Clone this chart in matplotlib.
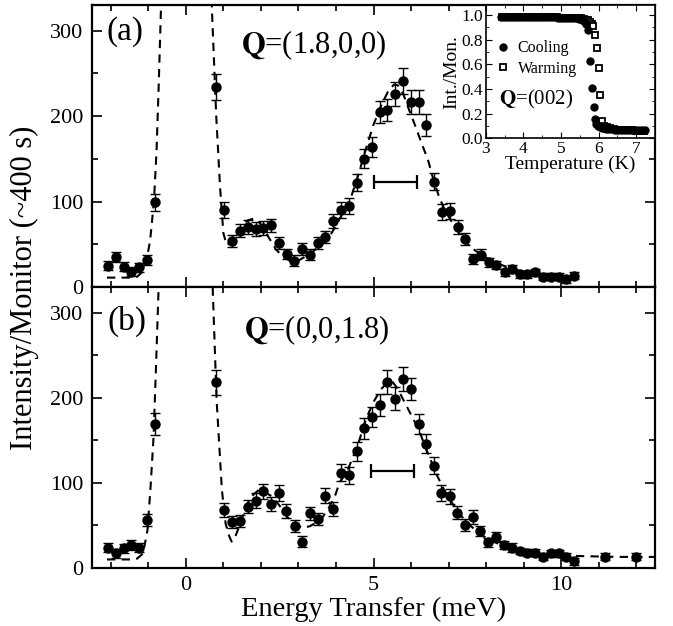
import matplotlib
matplotlib.use("Agg")
import matplotlib.pyplot as plt
from matplotlib.ticker import MultipleLocator

plt.rcParams['font.family'] = 'serif'
plt.rcParams['font.serif'] = ['Liberation Serif', 'DejaVu Serif']
plt.rcParams['mathtext.fontset'] = 'stix'

# panel (a): Q=(1.8,0,0)
ea = [-2.07, -1.86, -1.66, -1.45, -1.24, -1.03, -0.82,
      0.81, 1.02, 1.23, 1.44, 1.65, 1.86, 2.06, 2.27, 2.48, 2.69, 2.89, 3.10,
      3.31, 3.51, 3.71, 3.93, 4.13, 4.34, 4.55, 4.75, 4.96, 5.17, 5.37, 5.58,
      5.79, 5.99, 6.20, 6.41, 6.62, 6.82, 7.03, 7.24, 7.45, 7.66, 7.86, 8.07,
      8.27, 8.49, 8.70, 8.90, 9.10, 9.31, 9.51, 9.72, 9.93, 10.13, 10.35]
ia = [25, 35, 24, 18, 23, 32, 99,
      234, 90, 54, 66, 70, 68, 69, 72, 52, 39, 31, 45,
      38, 52, 59, 77, 90, 95, 122, 150, 164, 205, 207, 226,
      241, 217, 217, 190, 123, 88, 89, 70, 56, 33, 38, 29,
      26, 17, 21, 15, 15, 17, 12, 12, 12, 9, 13]
da = [5, 6, 5, 5, 5, 6, 10,
      15, 9, 7, 8, 8, 8, 8, 8, 7, 6, 6, 7,
      6, 7, 7, 8, 9, 9, 10, 11, 12, 13, 13, 14,
      15, 14, 14, 13, 10, 9, 9, 8, 7, 6, 6, 5,
      5, 4, 5, 4, 4, 4, 4, 4, 4, 4, 4]
fit_ea = [-2.1, -1.8, -1.5, -1.3, -1.15, -1.05, -0.95, -0.85, -0.78, -0.72, -0.66, -0.55,
          0.55, 0.69, 0.81, 0.91, 1.0, 1.09, 1.2, 1.35, 1.5, 1.65, 1.8, 1.95, 2.1,
          2.25, 2.4, 2.6, 2.8, 3.0, 3.2, 3.4, 3.6, 3.8, 4.0, 4.2, 4.4, 4.6, 4.8,
          5.0, 5.2, 5.4, 5.55, 5.65, 5.8, 5.95, 6.1, 6.3, 6.45, 6.6, 6.75, 6.9,
          7.1, 7.3, 7.5, 7.7, 7.9, 8.1, 8.4, 8.7, 9.0, 9.4, 9.8, 10.3]
fit_ia = [11, 11, 11, 12, 18, 30, 55, 100, 160, 240, 330, 500,
          500, 330, 200, 118, 63, 49, 52, 62, 72, 78, 80, 76, 66,
          55, 44, 35, 30, 31, 36, 42, 49, 57, 72, 88, 105, 132, 162,
          190, 212, 230, 237, 236, 225, 207, 190, 166, 149, 125, 105, 90,
          75, 62, 51, 43, 37, 32, 26, 21, 18, 15, 13, 12]
res_a = (5.585, 123, 0.585)

# panel (b): Q=(0,0,1.8)
eb = [-2.07, -1.86, -1.66, -1.45, -1.24, -1.04, -0.82,
      0.81, 1.02, 1.23, 1.44, 1.65, 1.86, 2.06, 2.27, 2.48, 2.68, 2.90, 3.10,
      3.31, 3.51, 3.71, 3.93, 4.13, 4.34, 4.55, 4.75, 4.96, 5.17, 5.37, 5.58,
      5.79, 5.99, 6.20, 6.41, 6.61, 6.81, 7.03, 7.23, 7.44, 7.65, 7.85, 8.06,
      8.27, 8.47, 8.69, 8.89, 9.10, 9.31, 9.51, 9.72, 9.93, 10.13, 10.34,
      11.17, 12.00]
ib = [24, 17, 23, 27, 24, 56, 169,
      218, 68, 54, 55, 72, 79, 90, 75, 88, 67, 49, 31,
      64, 58, 85, 69, 112, 109, 137, 164, 177, 191, 218, 199,
      222, 210, 169, 146, 120, 88, 84, 65, 51, 60, 43, 30,
      36, 27, 24, 20, 18, 18, 13, 17, 17, 13, 8,
      13, 13]
db = [5, 5, 5, 6, 5, 7, 13,
      15, 8, 7, 7, 8, 9, 9, 8, 9, 8, 7, 6,
      8, 7, 9, 8, 10, 10, 11, 12, 12, 13, 14, 13,
      14, 13, 12, 11, 10, 9, 9, 8, 7, 8, 6, 5,
      6, 5, 5, 4, 4, 4, 4, 4, 4, 4, 4,
      4, 4]
fit_eb = [-2.1, -1.5, -1.3, -1.14, -1.02, -0.94, -0.86, -0.8, -0.73, -0.62,
          0.62, 0.72, 0.82, 0.96, 1.06, 1.15, 1.22, 1.31, 1.45, 1.6, 1.75,
          1.95, 2.1, 2.3, 2.5, 2.7, 2.9, 3.1, 3.3, 3.5, 3.65, 3.8, 3.97,
          4.1, 4.2, 4.3, 4.46, 4.6, 4.8, 5.0, 5.2, 5.4, 5.5, 5.65, 5.8, 6.0,
          6.2, 6.4, 6.55, 6.7, 6.9, 7.1, 7.3, 7.5, 7.7, 7.9, 8.1, 8.4, 8.7,
          9.0, 9.4, 9.8, 10.5, 11.5, 12.5]
fit_ib = [10, 10, 11, 17, 45, 95, 154, 230, 323, 500,
          500, 323, 197, 92, 52, 38, 31, 36, 52, 72, 84,
          92, 89, 84, 73, 60, 52, 47, 49, 54, 60, 70, 84,
          101, 107, 114, 131, 147, 175, 195, 210, 219, 219, 210, 197, 180,
          163, 140, 124, 108, 90, 76, 63, 53, 45, 38, 33, 27, 23,
          20, 17, 15, 14, 13, 13]
res_b = (5.50, 114, 0.58)

# inset: Q=(002) order parameter
cool_T = [3.40, 3.48, 3.56, 3.64, 3.72, 3.80, 3.88, 3.96, 4.04, 4.12, 4.20,
          4.28, 4.36, 4.44, 4.52, 4.60, 4.68, 4.76, 4.84, 4.92, 5.00, 5.08,
          5.16, 5.24, 5.32, 5.40, 5.48, 5.56, 5.62, 5.67, 5.72, 5.78, 5.81,
          5.87, 5.90, 5.94, 5.98, 6.03, 6.08, 6.14, 6.20, 6.28, 6.36, 6.44,
          6.52, 6.60, 6.68, 6.76, 6.84, 6.92, 7.00, 7.08, 7.16, 7.22]
cool_I = [0.985, 0.985, 0.985, 0.984, 0.984, 0.984, 0.983, 0.983, 0.983, 0.982, 0.982,
          0.982, 0.981, 0.981, 0.980, 0.980, 0.980, 0.979, 0.979, 0.978, 0.978, 0.977,
          0.976, 0.975, 0.974, 0.972, 0.968, 0.962, 0.950, 0.930, 0.880, 0.630, 0.410,
          0.250, 0.160, 0.120, 0.100, 0.090, 0.085, 0.080, 0.077, 0.074, 0.072, 0.070,
          0.069, 0.068, 0.067, 0.066, 0.066, 0.065, 0.065, 0.064, 0.064, 0.064]
warm_T = [3.44, 3.52, 3.60, 3.68, 3.76, 3.84, 3.92, 4.00, 4.08, 4.16, 4.24,
          4.32, 4.40, 4.48, 4.56, 4.64, 4.72, 4.80, 4.88, 4.96, 5.04, 5.12,
          5.20, 5.28, 5.36, 5.44, 5.52, 5.60, 5.66, 5.72, 5.77, 5.82, 5.86,
          5.91, 5.95, 6.00, 6.03, 6.09, 6.15, 6.22, 6.30, 6.40, 6.50, 6.60,
          6.70, 6.80, 6.90, 7.00, 7.10, 7.20]
warm_I = [0.985, 0.985, 0.985, 0.984, 0.984, 0.984, 0.983, 0.983, 0.983, 0.982, 0.982,
          0.982, 0.981, 0.981, 0.980, 0.980, 0.980, 0.979, 0.979, 0.978, 0.978, 0.977,
          0.977, 0.976, 0.975, 0.974, 0.972, 0.968, 0.962, 0.955, 0.945, 0.930, 0.910,
          0.840, 0.730, 0.570, 0.350, 0.140, 0.100, 0.088, 0.080, 0.074, 0.070, 0.068,
          0.066, 0.065, 0.064, 0.063, 0.063, 0.062]

TICK = 16


def style_main(ax):
    ax.set_xlim(-2.5, 12.5)
    ax.set_ylim(0, 330)
    ax.xaxis.set_major_locator(MultipleLocator(5))
    ax.xaxis.set_minor_locator(MultipleLocator(1))
    ax.yaxis.set_major_locator(MultipleLocator(100))
    ax.yaxis.set_minor_locator(MultipleLocator(50))
    ax.tick_params(which='both', direction='in', top=True, right=True,
                   labelsize=TICK, width=1.2)
    ax.tick_params(which='major', length=7, pad=6)
    ax.tick_params(which='minor', length=4.5)
    for s in ax.spines.values():
        s.set_linewidth(1.6)


def draw_panel(ax, e, i, d, fe, fi, res):
    ax.plot(fe, fi, color='black', lw=1.5, dashes=(4, 3), zorder=2)
    ax.errorbar(e, i, yerr=d, fmt='o', color='black', ms=6.5, capsize=3.5,
                elinewidth=1.0, capthick=1.0, zorder=3)
    ax.errorbar(res[0], res[1], xerr=res[2], fmt='none', ecolor='black',
                elinewidth=1.6, capsize=5, capthick=1.6)


fig = plt.figure(figsize=(6.73, 6.26), dpi=100)
ax_a = fig.add_axes([0.1367, 0.5415, 0.8366, 0.4505])
ax_b = fig.add_axes([0.1367, 0.0927, 0.8366, 0.4488])

draw_panel(ax_a, ea, ia, da, fit_ea, fit_ia, res_a)
draw_panel(ax_b, eb, ib, db, fit_eb, fit_ib, res_b)
style_main(ax_a)
style_main(ax_b)
ax_a.tick_params(labelbottom=False)

ax_a.text(0.026, 0.905, '(a)', transform=ax_a.transAxes, fontsize=24,
          ha='left', va='center')
ax_a.text(0.264, 0.858, r'$\mathbf{Q}$=(1.8,0,0)', transform=ax_a.transAxes,
          fontsize=22, ha='left', va='center')
ax_b.text(0.027, 0.877, '(b)', transform=ax_b.transAxes, fontsize=24,
          ha='left', va='center')
ax_b.text(0.27, 0.847, r'$\mathbf{Q}$=(0,0,1.8)', transform=ax_b.transAxes,
          fontsize=22, ha='left', va='center')

ax_b.set_xlabel('Energy Transfer (meV)', fontsize=20.5, labelpad=1)
fig.text(0.037, 0.54, 'Intensity/Monitor (~400 s)', rotation=90,
         fontsize=22, ha='center', va='center')

# inset
ins = fig.add_axes([0.722, 0.779, 0.2513, 0.213])
ins.plot(warm_T, warm_I, 's', mfc='white', mec='black', mew=1.3, ms=5,
         label='Warming', zorder=2)
ins.plot(cool_T, cool_I, 'o', color='black', ms=5, label='Cooling', zorder=3)
ins.set_xlim(3, 7.5)
ins.set_ylim(0, 1.08)
ins.xaxis.set_major_locator(MultipleLocator(1))
ins.xaxis.set_minor_locator(MultipleLocator(0.5))
ins.yaxis.set_major_locator(MultipleLocator(0.2))
ins.yaxis.set_minor_locator(MultipleLocator(0.1))
ins.tick_params(which='both', direction='in', top=True, right=True,
                labelsize=12.5, pad=2)
ins.tick_params(which='major', length=4)
ins.tick_params(which='minor', length=2.5)
for s in ins.spines.values():
    s.set_linewidth(1.2)
ins.set_xlabel('Temperature (K)', fontsize=14, labelpad=-1)
ins.set_ylabel('Int./Mon.', fontsize=14, labelpad=1)
h, l = ins.get_legend_handles_labels()
ins.legend(h[::-1], l[::-1], loc='upper left', bbox_to_anchor=(0.0, 0.82),
           frameon=False, fontsize=11.5, handlelength=0.8, handletextpad=0.5,
           labelspacing=0.3, borderpad=0.2)
ins.text(0.08, 0.29, r'$\mathbf{Q}$=(002)', transform=ins.transAxes,
         fontsize=15, ha='left', va='center')

fig.savefig('out.png', dpi=100)
